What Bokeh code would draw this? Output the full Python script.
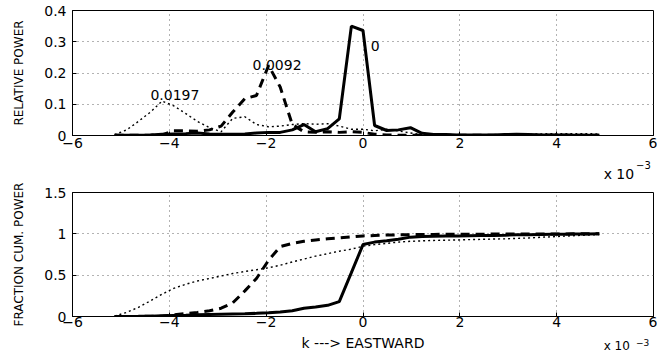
from bokeh.plotting import figure
from bokeh.layouts import column
from bokeh.models import Range1d, FixedTicker
from bokeh.embed import file_html
from bokeh.resources import INLINE
from bokeh.core.properties import value

# wavenumber k (units of 1e-3)
k = [-5.13, -4.88, -4.64, -4.39, -4.15, -3.91, -3.66, -3.42, -3.17, -2.93,
     -2.69, -2.44, -2.20, -1.95, -1.71, -1.46, -1.22, -0.98, -0.73, -0.49,
     -0.24, 0.00, 0.24, 0.49, 0.73, 0.98, 1.22, 1.46, 1.71, 1.95,
     2.20, 2.44, 2.69, 2.93, 3.17, 3.42, 3.66, 3.91, 4.15, 4.39,
     4.64, 4.88]

# relative power (top panel)
rel_solid = [0.001, 0.001, 0.001, 0.002, 0.004, 0.005, 0.006, 0.008, 0.005, 0.004,
             0.004, 0.005, 0.008, 0.010, 0.010, 0.018, 0.035, 0.012, 0.022, 0.053,
             0.350, 0.336, 0.032, 0.016, 0.018, 0.025, 0.007, 0.003, 0.003, 0.002,
             0.002, 0.002, 0.002, 0.003, 0.004, 0.003, 0.002, 0.002, 0.002, 0.001,
             0.001, 0.001]
rel_dashed = [0.001, 0.001, 0.001, 0.001, 0.002, 0.015, 0.015, 0.014, 0.018, 0.030,
              0.075, 0.118, 0.128, 0.224, 0.155, 0.035, 0.012, 0.010, 0.012, 0.010,
              0.012, 0.010, 0.004, 0.002, 0.001, 0.001, 0.001, 0.001, 0.001, 0.001,
              0.001, 0.001, 0.001, 0.001, 0.001, 0.001, 0.001, 0.001, 0.001, 0.001,
              0.001, 0.001]
rel_dotted = [0.003, 0.018, 0.045, 0.075, 0.110, 0.095, 0.070, 0.045, 0.025, 0.012,
              0.055, 0.060, 0.035, 0.028, 0.030, 0.035, 0.038, 0.036, 0.038, 0.030,
              0.020, 0.020, 0.015, 0.020, 0.015, 0.008, 0.003, 0.002, 0.002, 0.002,
              0.002, 0.002, 0.002, 0.003, 0.003, 0.004, 0.005, 0.006, 0.006, 0.006,
              0.006, 0.005]

# fraction of cumulative power (bottom panel)
cum_solid = [0.000, 0.001, 0.002, 0.004, 0.008, 0.012, 0.016, 0.020, 0.024, 0.027,
             0.030, 0.033, 0.038, 0.045, 0.055, 0.070, 0.100, 0.115, 0.135, 0.180,
             0.530, 0.870, 0.900, 0.915, 0.935, 0.960, 0.967, 0.970, 0.973, 0.975,
             0.977, 0.979, 0.981, 0.984, 0.988, 0.990, 0.992, 0.994, 0.996, 0.998,
             0.999, 1.000]
cum_dashed = [0.000, 0.000, 0.001, 0.002, 0.004, 0.020, 0.035, 0.050, 0.070, 0.100,
              0.165, 0.310, 0.460, 0.680, 0.845, 0.885, 0.910, 0.925, 0.940, 0.950,
              0.962, 0.975, 0.980, 0.985, 0.988, 0.990, 0.992, 0.993, 0.994, 0.995,
              0.996, 0.996, 0.997, 0.997, 0.998, 0.998, 0.999, 0.999, 0.999, 1.000,
              1.000, 1.000]
cum_dotted = [0.005, 0.050, 0.110, 0.190, 0.270, 0.340, 0.390, 0.430, 0.460, 0.490,
              0.520, 0.545, 0.565, 0.590, 0.620, 0.660, 0.695, 0.730, 0.760, 0.790,
              0.815, 0.850, 0.870, 0.885, 0.900, 0.910, 0.915, 0.920, 0.923, 0.926,
              0.930, 0.933, 0.937, 0.940, 0.945, 0.950, 0.958, 0.965, 0.972, 0.979,
              0.986, 0.992]

# peak annotations (top panel)
label_k = [-4.39, -2.28, 0.16]
label_v = [0.131, 0.227, 0.288]
label_txt = ["0.0197", "0.0092", "0"]

x_ticks = [-6, -4, -2, 0, 2, 4, 6]
x_tick_labels = ["\u22126", "\u22124", "\u22122", "0", "2", "4", "6"]
top_ticks = [0, 0.1, 0.2, 0.3, 0.4]
top_tick_labels = ["0", "0.1", "0.2", "0.3", "0.4"]
bot_ticks = [0, 0.5, 1, 1.5]
bot_tick_labels = ["0", "0.5", "1", "1.5"]
x_label = "k ---> EASTWARD"
scale_txt = "x 10"
scale_exp = "\u22123"

FONT = "DejaVu Sans"
W = 657
LEFT = 72
RIGHT = 4


def make_fig(h, btop, bbot, ymax, yticks, ylabels, ylabel, xstand):
    p = figure(width=W, height=h, output_backend="svg", toolbar_location=None,
               x_range=Range1d(-6, 6), y_range=Range1d(0, ymax),
               min_border_left=LEFT, min_border_right=RIGHT,
               min_border_top=btop, min_border_bottom=bbot)
    p.outline_line_color = "black"
    p.outline_line_alpha = 1.0
    p.outline_line_width = 1
    p.background_fill_color = "white"
    p.border_fill_color = "white"

    p.xaxis.ticker = FixedTicker(ticks=x_ticks)
    p.xaxis.major_label_overrides = dict(zip(x_ticks, x_tick_labels))
    p.yaxis.ticker = FixedTicker(ticks=yticks)
    p.yaxis.major_label_overrides = dict(zip(yticks, ylabels))
    for ax in (p.xaxis, p.yaxis):
        ax.axis_line_color = "black"
        ax.major_tick_line_color = "black"
        ax.major_tick_in = 4
        ax.major_tick_out = 0
        ax.minor_tick_line_color = None
        ax.major_label_text_font = FONT
        ax.major_label_text_font_size = "14px"
        ax.major_label_text_color = "black"
    p.xaxis.major_label_standoff = xstand
    p.yaxis.major_label_standoff = 6
    p.yaxis.axis_label = ylabel
    p.yaxis.axis_label_text_font = FONT
    p.yaxis.axis_label_text_font_size = "12px"
    p.yaxis.axis_label_text_font_style = "normal"
    p.yaxis.axis_label_text_color = "black"
    p.yaxis.axis_label_standoff = 15

    for g in (p.xgrid, p.ygrid):
        g.grid_line_color = "#666666"
        g.grid_line_dash = "1 4"
        g.grid_line_width = 1
    return p


def make_strip(h):
    # text strip sharing the panels' horizontal data scale; y counts pixels down
    s = figure(width=W, height=h, output_backend="svg", toolbar_location=None,
               x_range=Range1d(-6, 6), y_range=Range1d(h, 0),
               x_axis_type=None, y_axis_type=None,
               min_border_left=LEFT, min_border_right=RIGHT,
               min_border_top=0, min_border_bottom=0)
    s.outline_line_color = None
    s.background_fill_color = "white"
    s.border_fill_color = "white"
    return s


def add_scale(s, y_base, y_exp, size_main, size_exp):
    s.text(x=[4.97], y=[y_base], text=[scale_txt], text_font=value(FONT),
           text_font_size=size_main, text_baseline="alphabetic", text_align="left",
           text_color="black")
    s.text(x=[5.64], y=[y_exp], text=[scale_exp], text_font=value(FONT),
           text_font_size=size_exp, text_baseline="alphabetic", text_align="left",
           text_color="black")


# top panel
p1 = make_fig(155, 10, 20, 0.4, top_ticks, top_tick_labels, "RELATIVE POWER", 2)
p1.line(k, rel_dotted, line_color="black", line_width=1.4, line_dash="2 3")
p1.line(k, rel_dashed, line_color="black", line_width=3, line_dash="9 6")
p1.line(k, rel_solid, line_color="black", line_width=3)
p1.text(x=label_k, y=label_v, text=label_txt, text_font=value(FONT),
        text_font_size="14px", text_baseline="middle", text_align="left",
        text_color="black")

s1 = make_strip(25)
add_scale(s1, 18, 9.5, "14px", "10px")

# bottom panel
p2 = make_fig(153, 12, 17, 1.5, bot_ticks, bot_tick_labels, "FRACTION CUM. POWER", 0)
p2.line(k, cum_dotted, line_color="black", line_width=1.4, line_dash="2 3")
p2.line(k, cum_dashed, line_color="black", line_width=3, line_dash="9 6")
p2.line(k, cum_solid, line_color="black", line_width=3)

s2 = make_strip(20)
s2.text(x=[0], y=[9], text=[x_label], text_font=value(FONT),
        text_font_size="14px", text_baseline="middle", text_align="center",
        text_color="black")
add_scale(s2, 12.5, 8.5, "12px", "9px")

layout = column(p1, s1, p2, s2, spacing=0)
open("out.html", "w").write(file_html(layout, INLINE))
